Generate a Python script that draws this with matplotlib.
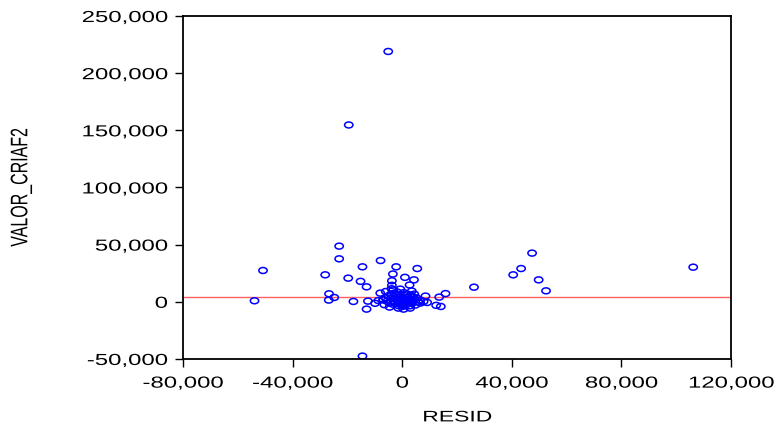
import numpy as np
import matplotlib.pyplot as plt
from matplotlib.path import Path
from matplotlib.ticker import FuncFormatter
from matplotlib.patheffects import AbstractPathEffect
from matplotlib.transforms import Affine2D

plt.rcParams['font.family'] = ['Liberation Sans', 'DejaVu Sans']

# residuals (x) and VALOR_CRIAF2 (y)
resid = [-5100, -19500, -23000, -23000, -50800, -28100, -14500, -7900, -2200, 5500,
         -19700, -15200, -13000, -3400, -3760, -3760, -3900, 1000, 4300, 2700,
         -26700, -26800, -24800, -53900, -17800, -13000, -12500, -9900, -14500, 8500,
         13500, 15800, 9100, 12400, 14100, 26200, 40500, 43400, 47400, 49800,
         52500, 106200,
         -8000, -6000, -3200, -700, 3500, 4400, -4600, -1400, 500, 2900,
         6600, 7800, -8700, -6800,
         -5000, -4000, -3000, -2000, -1000, 0, 1000, 2000, 3000, 4000,
         -4500, -3500, -2500, -1500, -500, 500, 1500, 2500, 3500, 4500,
         -6000, -5500, -2200, -800, 700, 1800, -1200, 200, 1200, 2800,
         -3000, -1800, 600, 3200, 5200, 5800, -7000, -6500, -200, 800,
         -2800, 2200, 3800, -4200, -300, 1600, -1600, 4800, 6500, -800]
valor = [219000, 154700, 48700, 37600, 27400, 23600, 30600, 36100, 30600, 29100,
         20700, 17900, 13100, 24300, 18400, 14400, 11400, 21400, 19200, 14700,
         7000, 1500, 3800, 900, 300, -6400, 600, -1300, -47500, 5000,
         4100, 7200, -600, -3100, -4100, 12800, 23600, 29100, 42600, 19200,
         9600, 30300,
         7600, 9000, 10500, 11100, 9400, 6700, -4600, -5500, -6400, -5500,
         -1100, 300, 1100, 1700,
         5000, 3000, 1000, 4000, 2000, 3000, 1000, 4000, 2000, 500,
         -1000, -2000, 0, -1500, -500, -2000, -1000, 0, -1500, 2500,
         3500, 500, 6000, 6500, 5500, 6800, -3500, -4000, -3000, -3500,
         7500, 8500, 8000, 5800, 3500, -200, 2000, -2500, 1000, 2500,
         2800, 1800, 4200, 6500, -2800, 200, 700, -2800, 1500, 4200]
fit_level = 4500

xticks = [-80000, -40000, 0, 40000, 80000, 120000]
yticks = [-50000, 0, 50000, 100000, 150000, 200000, 250000]


class Stretch(AbstractPathEffect):
    # widen the glyphs of a text around an anchor (the original is a stretched bitmap)
    def __init__(self, sx=1.0, sy=1.0, anchor=0.5):
        super().__init__()
        self.sx, self.sy, self.anchor = sx, sy, anchor

    def draw_path(self, renderer, gc, tpath, affine, rgbFace=None):
        v = tpath.vertices
        t = affine
        if len(v):
            cx = v[:, 0].min() + self.anchor * (v[:, 0].max() - v[:, 0].min())
            cy = (v[:, 1].min() + v[:, 1].max()) / 2
            t = Affine2D().translate(-cx, -cy).scale(self.sx, self.sy).translate(cx, cy) + affine
        renderer.draw_path(gc, tpath, t, rgbFace)


fig = plt.figure(figsize=(7.78, 4.33), dpi=100)
ax = fig.add_axes([0.2352, 0.171, 0.7044, 0.792])

# slightly wide ellipse, like the original's stretched circles
circ = Path.unit_circle()
ell = Path(circ.vertices * np.array([1.4, 1.0]), circ.codes)

ax.axhline(fit_level, color='#ff6060', lw=1.0, zorder=1)
ax.scatter(resid, valor, marker=ell, s=36, facecolors='none',
           edgecolors='#0000ff', linewidths=1.1, zorder=2)

ax.set_xlim(-80000, 120000)
ax.set_ylim(-50000, 250000)
ax.set_xticks(xticks)
ax.set_yticks(yticks)
fmt = FuncFormatter(lambda v, p: f"{int(v):,}")
ax.xaxis.set_major_formatter(fmt)
ax.yaxis.set_major_formatter(fmt)
ax.tick_params(direction='out', length=6, width=1, labelsize=11.5, colors='black')
ax.tick_params(axis='y', pad=5)
ax.tick_params(axis='x', pad=6)

for lab in ax.get_xticklabels():
    lab.set_path_effects([Stretch(sx=1.5, anchor=0.5)])
for lab in ax.get_yticklabels():
    lab.set_path_effects([Stretch(sx=1.5, anchor=1.0)])

for s in ax.spines.values():
    s.set_linewidth(1.3)
    s.set_color('black')

ax.set_xlabel('RESID', fontsize=11, path_effects=[Stretch(sx=1.5)])
ax.set_ylabel('VALOR_CRIAF2', fontsize=11.5, path_effects=[Stretch(sy=1.5)])
ax.xaxis.set_label_coords(0.5, -0.15)
ax.yaxis.set_label_coords(-0.282, 0.5)

fig.savefig('out.png', dpi=100)
